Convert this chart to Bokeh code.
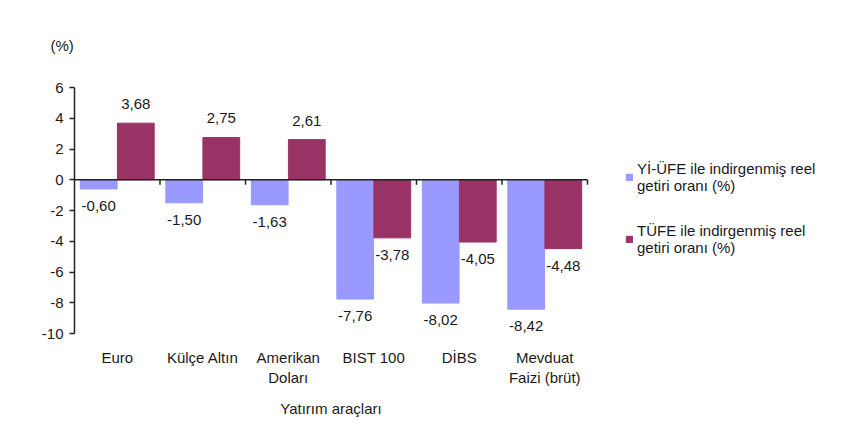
from bokeh.plotting import figure
from bokeh.models import (ColumnDataSource, Range1d, FixedTicker, Legend, LegendItem,
                          LinearAxis)
from bokeh.embed import file_html
from bokeh.resources import INLINE
from bokeh.core.properties import value

categories = ["Euro", "Külçe Altın", "Amerikan\nDoları", "BIST 100", "DİBS", "Mevduat\nFaizi (brüt)"]
yiufe = [-0.60, -1.50, -1.63, -7.76, -8.02, -8.42]
tufe = [3.68, 2.75, 2.61, -3.78, -4.05, -4.48]
series_names = ["Yİ-ÜFE ile indirgenmiş reel\ngetiri oranı (%)",
                "TÜFE ile indirgenmiş reel\ngetiri oranı (%)"]
y_ticks = [-10, -8, -6, -4, -2, 0, 2, 4, 6]
x_title = "Yatırım araçları"
y_title = "(%)"

FONT = "Liberation Sans"
BLUE = "#9999FF"
RED = "#993366"
TXT = "#1a1a1a"

n = len(categories)
centers = [i + 0.5 for i in range(n)]
off = 0.217
bw = 0.43

def fmt(v):
    return f"{v:.2f}".replace(".", ",")

src_a = ColumnDataSource(dict(x=[c - off for c in centers], top=yiufe))
src_b = ColumnDataSource(dict(x=[c + off for c in centers], top=tufe))

# frame spans the legend area too; the category area covers x in [0, n]
plot_w_cat = 513.0
frame_w = 850 - 74 - 6
p = figure(width=850, height=442, output_backend="svg", toolbar_location=None,
           x_range=Range1d(0, n * frame_w / plot_w_cat), y_range=Range1d(-10, 6),
           min_border_left=74, min_border_right=6, min_border_top=87,
           min_border_bottom=109)
p.outline_line_color = None
p.grid.grid_line_color = None
p.background_fill_color = "white"
p.border_fill_color = "white"

ra = p.vbar(x="x", top="top", bottom=0, width=bw, source=src_a, fill_color=BLUE,
            line_color=BLUE)
rb = p.vbar(x="x", top="top", bottom=0, width=bw, source=src_b, fill_color=RED,
            line_color=RED)

# zero axis line with category-boundary ticks
p.segment(x0=[0], x1=[n], y0=[0], y1=[0], line_color="#222222", line_width=1.5)
bounds = list(range(1, n + 1))
p.segment(x0=bounds, x1=bounds, y0=[0] * n, y1=[-0.33] * n, line_color="#222222",
          line_width=1.5)

# data labels
for src, vals in ((src_a, yiufe), (src_b, tufe)):
    xs = src.data["x"]
    pos = ColumnDataSource(dict(x=[x for x, v in zip(xs, vals) if v >= 0],
                                y=[v for v in vals if v >= 0],
                                t=[fmt(v) for v in vals if v >= 0]))
    neg = ColumnDataSource(dict(x=[x for x, v in zip(xs, vals) if v < 0],
                                y=[v for v in vals if v < 0],
                                t=[fmt(v) for v in vals if v < 0]))
    p.text(x="x", y="y", text="t", source=pos, text_align="center",
           text_baseline="bottom", y_offset=-14, text_font=value(FONT),
           text_font_size="15px", text_color=TXT)
    p.text(x="x", y="y", text="t", source=neg, text_align="center",
           text_baseline="top", y_offset=12, text_font=value(FONT),
           text_font_size="15px", text_color=TXT)

# y axis
ya = p.yaxis[0]
ya.ticker = FixedTicker(ticks=y_ticks)
ya.major_label_overrides = {t: str(t) for t in y_ticks}
ya.axis_line_color = "#222222"
ya.axis_line_width = 1.5
ya.major_tick_line_color = "#222222"
ya.major_tick_line_width = 1.5
ya.major_tick_out = 5
ya.major_tick_in = 0
ya.minor_tick_line_color = None
ya.major_label_text_font = FONT
ya.major_label_text_font_size = "15px"
ya.major_label_text_color = TXT
ya.major_label_standoff = 6

def label_axis(ax, ticks, labels, standoff):
    ax.ticker = FixedTicker(ticks=ticks)
    ax.major_label_overrides = {t: lab for t, lab in zip(ticks, labels)}
    ax.axis_line_color = None
    ax.major_tick_line_color = None
    ax.minor_tick_line_color = None
    ax.major_label_text_font = FONT
    ax.major_label_text_font_size = "15px"
    ax.major_label_text_color = TXT
    ax.major_label_standoff = standoff

# x axis (category labels only)
label_axis(p.xaxis[0], centers, categories, 9)
# axis title, centred under the category area
xt = LinearAxis()
label_axis(xt, [n / 2], [x_title], 5)
p.add_layout(xt, "below")

p.title.text = y_title
p.title.text_font = FONT
p.title.text_font_size = "15px"
p.title.text_font_style = "normal"
p.title.text_color = TXT
p.title.align = "left"
p.title.offset = -24
p.title.standoff = 67

legend = Legend(items=[LegendItem(label=series_names[0], renderers=[ra]),
                       LegendItem(label=series_names[1], renderers=[rb])],
                location=(551, 77), orientation="vertical",
                label_text_font=FONT, label_text_font_size="15px",
                label_text_color=TXT, glyph_width=8, glyph_height=8,
                spacing=28, padding=0, margin=0, label_standoff=4,
                border_line_color=None, background_fill_alpha=0)
p.add_layout(legend)

open("out.html", "w").write(file_html(p, INLINE))
